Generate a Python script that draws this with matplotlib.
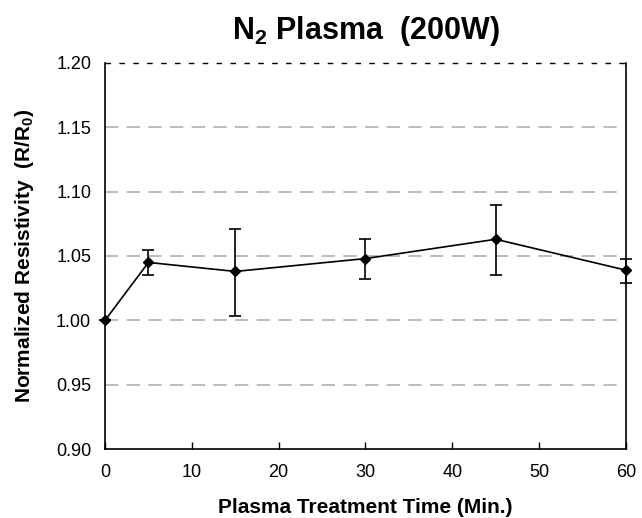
import numpy as np
import matplotlib
matplotlib.use("Agg")
import matplotlib.pyplot as plt

plt.rcParams['font.family'] = ['Liberation Sans', 'DejaVu Sans']
plt.rcParams['mathtext.fontset'] = 'custom'
plt.rcParams['mathtext.rm'] = 'Liberation Sans:bold'
plt.rcParams['mathtext.it'] = 'Liberation Sans:bold'
plt.rcParams['mathtext.bf'] = 'Liberation Sans:bold'

# data
time_min = [0, 5, 15, 30, 45, 60]
resistivity = [1.000, 1.045, 1.038, 1.048, 1.063, 1.039]
err_low = [0.000, 0.010, 0.035, 0.016, 0.028, 0.010]
err_high = [0.000, 0.010, 0.033, 0.015, 0.027, 0.009]

fig = plt.figure(figsize=(6.42, 5.18), dpi=100)
ax = fig.add_axes([0.1636, 0.1332, 0.8114, 0.7452])

# grid lines
for yv in [0.95, 1.00, 1.05, 1.10, 1.15]:
    ax.axhline(yv, color='#b0b0b0', lw=1.2, ls=(0, (8, 5)), zorder=0)
ax.axhline(1.20, color='black', lw=1.0, ls=(0, (4, 6)), zorder=1, clip_on=False)

ax.errorbar(time_min, resistivity, yerr=[err_low, err_high], color='black',
            lw=1.2, elinewidth=1.2, capsize=4, capthick=1.2,
            marker='D', markersize=5, zorder=3, clip_on=False)

ax.set_xlim(0, 60)
ax.set_ylim(0.90, 1.20)
ax.set_xticks([0, 10, 20, 30, 40, 50, 60])
ax.set_yticks([0.90, 0.95, 1.00, 1.05, 1.10, 1.15, 1.20])
ax.set_yticklabels(['0.90', '0.95', '1.00', '1.05', '1.10', '1.15', '1.20'])
ax.tick_params(axis='x', direction='in', length=5, width=1, labelsize=13, pad=11)
ax.tick_params(axis='y', length=0, labelsize=13, pad=10)

ax.spines['top'].set_visible(False)
for s in ['left', 'right', 'bottom']:
    ax.spines[s].set_linewidth(1.2)

ax.set_xlabel('Plasma Treatment Time (Min.)', fontsize=15, fontweight='bold', labelpad=12)
ax.set_ylabel(r'Normalized Resistivity  (R/R$_0$)', fontsize=15, fontweight='bold', labelpad=14)
ax.set_title(r'N$_2$ Plasma  (200W)', fontsize=22, fontweight='bold', pad=17)

fig.savefig('out.png', dpi=100)
